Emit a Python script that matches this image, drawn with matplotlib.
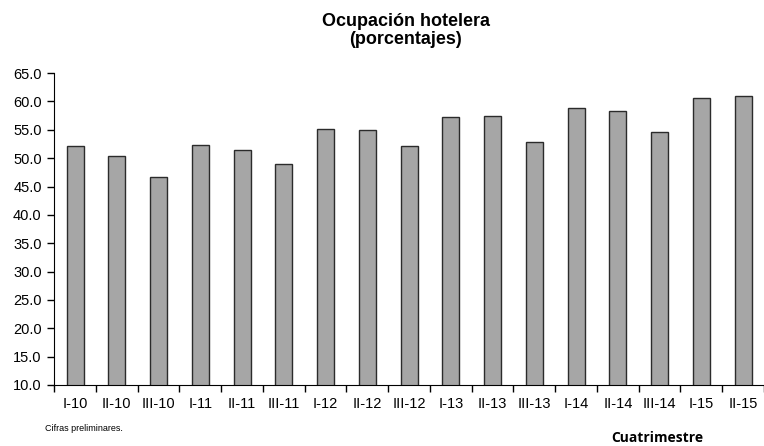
import matplotlib
matplotlib.use("Agg")
import matplotlib.pyplot as plt
import numpy as np

# Quarterly (cuatrimestre) hotel occupancy, percent
periodos = ["I-10", "II-10", "III-10", "I-11", "II-11", "III-11", "I-12", "II-12",
            "III-12", "I-13", "II-13", "III-13", "I-14", "II-14", "III-14", "I-15", "II-15"]
ocupacion = [52.2, 50.3, 46.7, 52.4, 51.5, 48.9, 55.1, 55.0,
             52.2, 57.3, 57.5, 52.9, 58.8, 58.4, 54.6, 60.6, 60.9]

plt.rcParams["font.family"] = ["Liberation Sans", "DejaVu Sans"]

fig = plt.figure(figsize=(7.64, 4.46), dpi=100)
ax = fig.add_axes([0.071, 0.137, 0.929, 0.699])

x = np.arange(len(periodos))
ax.bar(x, ocupacion, width=0.41, color="#a6a6a6", edgecolor="#2b2b2b",
       linewidth=1.0)

ax.set_xlim(-0.5, len(periodos) - 0.5)
ax.set_ylim(10, 65)
yt = np.arange(10, 65.1, 5)
ax.set_yticks(yt)
ax.set_yticklabels([f"{v:.1f}" for v in yt], fontsize=10.5)

# category labels centred, tick marks at boundaries
ax.set_xticks(x)
ax.set_xticklabels(periodos, fontsize=10.5)
ax.set_xticks(np.arange(-0.5, len(periodos), 1), minor=True)
ax.tick_params(axis="x", which="major", length=0, pad=9)
ax.tick_params(axis="x", which="minor", length=5, direction="out", width=1)
ax.tick_params(axis="y", length=5, direction="out", width=1, pad=4)

for s in ["top", "right"]:
    ax.spines[s].set_visible(False)
ax.spines["left"].set_color("black")
ax.spines["bottom"].set_color("black")

fig.text(0.531, 0.932, "Ocupación hotelera\n(porcentajes)", ha="center", va="center",
         fontsize=13, fontweight="bold", linespacing=1.05)
fig.text(0.059, 0.04, "Cifras preliminares.", fontsize=6.5, va="center")
fig.text(0.861, 0.018, "Cuatrimestre", fontsize=10, fontweight="bold", ha="center",
         va="center", family=["Open Sans", "DejaVu Sans"])

fig.savefig("out.png", dpi=100)
